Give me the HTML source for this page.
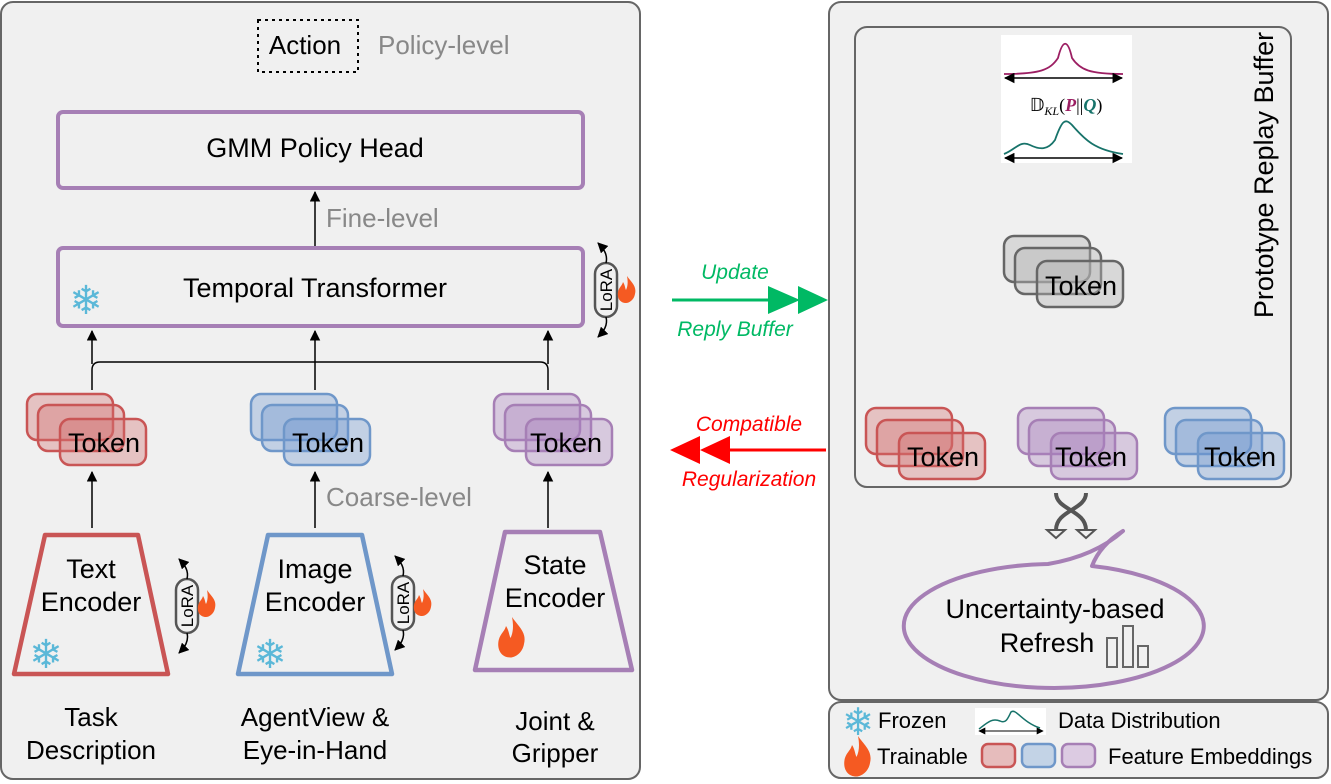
<!DOCTYPE html>
<html><head><meta charset="utf-8"><style>
html,body{margin:0;padding:0;background:#fff;}
svg{display:block;font-family:"Liberation Sans",Arial,sans-serif;}
</style></head><body>
<svg width="1331" height="784" viewBox="0 0 1331 784" xmlns="http://www.w3.org/2000/svg">
<defs>
<marker id="ar" viewBox="0 0 10 10" refX="9" refY="5" markerWidth="7" markerHeight="7" orient="auto-start-reverse"><path d="M0,0 L10,5 L0,10 z" fill="#000"/></marker>
<g id="flame"><g transform="scale(1.5)"><path d="M0,-14 C4,-8 10,-4 8,4 C7,10 2,13 -1,13 C-7,13 -10,8 -9,2 C-8,-3 -5,-4 -4,-8 C-2,-5 -2,-2 -1,0 C1,-4 1,-9 0,-14 z" fill="#f55a22"/></g></g>
<g id="sflame"><path d="M0,-14 C4,-8 10,-4 8,4 C7,10 2,13 -1,13 C-7,13 -10,8 -9,2 C-8,-3 -5,-4 -4,-8 C-2,-5 -2,-2 -1,0 C1,-4 1,-9 0,-14 z" fill="#f55a22"/></g>
<g id="lora"><rect x="-11" y="-27" width="22" height="54" rx="11" fill="#f0f0f0" stroke="#555" stroke-width="2.5"/><text transform="rotate(-90)" x="0" y="6" text-anchor="middle" font-size="17" fill="#000">LoRA</text>
<path d="M0,-27 C2,-35 -2,-41 -8,-47" fill="none" stroke="#000" stroke-width="1.5" marker-end="url(#ar)"/>
<path d="M0,27 C2,35 -2,41 -8,47" fill="none" stroke="#000" stroke-width="1.5" marker-end="url(#ar)"/></g>
</defs>
<!-- left panel -->
<rect x="1" y="2" width="639" height="777" rx="12" fill="#f0f0f0" stroke="#666" stroke-width="2"/>
<rect x="258" y="20" width="100" height="52" fill="none" stroke="#000" stroke-width="2" stroke-dasharray="3,4"/>
<text x="305" y="54" text-anchor="middle" font-size="26">Action</text>
<text x="378" y="54" font-size="26" fill="#888">Policy-level</text>
<rect x="58" y="112" width="525" height="76" rx="5" fill="none" stroke="#a67fb5" stroke-width="4"/>
<text x="315" y="157" text-anchor="middle" font-size="27">GMM Policy Head</text>
<line x1="315" y1="246" x2="315" y2="192" stroke="#000" stroke-width="1.5" marker-end="url(#ar)"/>
<text x="326" y="227" font-size="26" fill="#888">Fine-level</text>
<rect x="58" y="248" width="525" height="78" rx="5" fill="none" stroke="#a67fb5" stroke-width="4"/>
<text x="315" y="297" text-anchor="middle" font-size="27">Temporal Transformer</text>
<text x="86" y="314" text-anchor="middle" font-size="40" fill="#5bb8d8">❄</text>
<use href="#lora" x="606" y="290"/><use href="#sflame" x="627" y="290"/>
<!-- connectors -->
<path d="M92,390 V370 Q92,362 100,362 H540 Q548,362 548,370 V390" fill="none" stroke="#000" stroke-width="1.5"/>
<line x1="92" y1="364" x2="92" y2="331" stroke="#000" stroke-width="1.5" marker-end="url(#ar)"/>
<line x1="315" y1="390" x2="315" y2="331" stroke="#000" stroke-width="1.5" marker-end="url(#ar)"/>
<line x1="548" y1="364" x2="548" y2="331" stroke="#000" stroke-width="1.5" marker-end="url(#ar)"/>
<!-- tokens left -->
<g stroke="#c95555" stroke-width="2.5" fill="rgba(210,110,110,0.35)">
<rect x="27" y="394" width="86" height="46" rx="10"/><rect x="38" y="405" width="86" height="46" rx="10"/><rect x="60" y="419" width="86" height="46" rx="10"/></g>
<text x="104" y="452" text-anchor="middle" font-size="27">Token</text>
<g stroke="#6f97c9" stroke-width="2.5" fill="rgba(110,150,205,0.35)">
<rect x="251" y="394" width="86" height="46" rx="10"/><rect x="262" y="405" width="86" height="46" rx="10"/><rect x="284" y="419" width="86" height="46" rx="10"/></g>
<text x="328" y="452" text-anchor="middle" font-size="27">Token</text>
<g stroke="#a67fb5" stroke-width="2.5" fill="rgba(170,130,190,0.35)">
<rect x="494" y="394" width="86" height="46" rx="10"/><rect x="505" y="405" width="86" height="46" rx="10"/><rect x="526" y="419" width="86" height="46" rx="10"/></g>
<text x="566" y="452" text-anchor="middle" font-size="27">Token</text>
<line x1="92" y1="528" x2="92" y2="472" stroke="#000" stroke-width="1.5" marker-end="url(#ar)"/>
<line x1="315" y1="528" x2="315" y2="472" stroke="#000" stroke-width="1.5" marker-end="url(#ar)"/>
<line x1="548" y1="528" x2="548" y2="472" stroke="#000" stroke-width="1.5" marker-end="url(#ar)"/>
<text x="326" y="506" font-size="26" fill="#888">Coarse-level</text>
<!-- encoders -->
<path d="M45,535 H138 L168,674 H14 Z" fill="none" stroke="#c95555" stroke-width="4.5" stroke-linejoin="round"/>
<text x="91" y="578" text-anchor="middle" font-size="27">Text</text><text x="91" y="611" text-anchor="middle" font-size="27">Encoder</text>
<text x="46" y="668" text-anchor="middle" font-size="40" fill="#5bb8d8">❄</text>
<use href="#lora" x="187" y="606"/><use href="#sflame" x="207" y="604"/>
<path d="M268,535 H362 L392,674 H238 Z" fill="none" stroke="#6f97c9" stroke-width="4.5" stroke-linejoin="round"/>
<text x="315" y="578" text-anchor="middle" font-size="27">Image</text><text x="315" y="611" text-anchor="middle" font-size="27">Encoder</text>
<text x="270" y="668" text-anchor="middle" font-size="40" fill="#5bb8d8">❄</text>
<use href="#lora" x="403" y="603"/><use href="#sflame" x="423" y="603"/>
<path d="M505,532 H600 L632,670 H475 Z" fill="none" stroke="#a67fb5" stroke-width="4.5" stroke-linejoin="round"/>
<text x="555" y="574" text-anchor="middle" font-size="27">State</text><text x="555" y="607" text-anchor="middle" font-size="27">Encoder</text>
<use href="#flame" x="512" y="638"/>
<g font-size="26" text-anchor="middle">
<text x="91" y="726">Task</text><text x="91" y="759">Description</text>
<text x="315" y="726">AgentView &amp;</text><text x="315" y="759">Eye-in-Hand</text>
<text x="555" y="730">Joint &amp;</text><text x="555" y="762">Gripper</text></g>
<!-- middle arrows -->
<line x1="672" y1="300" x2="775" y2="300" stroke="#00b964" stroke-width="3"/>
<path d="M768,286 L800,300 L768,314 Z M798,286 L828,300 L798,314 Z" fill="#00b964"/>
<text x="735" y="279" text-anchor="middle" font-size="21" font-style="italic" fill="#00b964">Update</text>
<text x="735" y="336" text-anchor="middle" font-size="21" font-style="italic" fill="#00b964">Reply Buffer</text>
<line x1="720" y1="450" x2="826" y2="450" stroke="#f00" stroke-width="3"/>
<path d="M700,436 L670,450 L700,464 Z M730,436 L700,450 L730,464 Z" fill="#f00"/>
<text x="749" y="431" text-anchor="middle" font-size="21" font-style="italic" fill="#f00">Compatible</text>
<text x="749" y="486" text-anchor="middle" font-size="21" font-style="italic" fill="#f00">Regularization</text>
<!-- right panel -->
<rect x="829" y="2" width="499" height="698" rx="12" fill="#f0f0f0" stroke="#666" stroke-width="2"/>
<rect x="855" y="27" width="436" height="460" rx="12" fill="#f0f0f0" stroke="#666" stroke-width="2"/>
<text transform="translate(1273,175) rotate(-90)" text-anchor="middle" font-size="27">Prototype Replay Buffer</text>
<rect x="1001" y="35" width="131" height="128" fill="#fff"/>
<path d="M1004,74 C1040,74 1050,70 1058,58 C1063,38 1068,40 1072,58 C1080,70 1090,74 1123,74" fill="none" stroke="#9c1f63" stroke-width="1.8"/>
<line x1="1005" y1="78" x2="1122" y2="78" stroke="#000" stroke-width="1.5" marker-end="url(#ar)" marker-start="url(#ar)"/>
<text x="1066" y="111" text-anchor="middle" font-size="18" font-family="Liberation Serif,serif">𝔻<tspan font-size="12" font-style="italic" dy="4">KL</tspan><tspan dy="-4">(</tspan><tspan fill="#9c1f63" font-style="italic" font-weight="bold">P</tspan>||<tspan fill="#17736a" font-style="italic" font-weight="bold">Q</tspan>)</text>
<path d="M1004,154 C1015,150 1020,140 1030,145 C1040,150 1048,150 1055,140 C1062,120 1065,118 1072,125 C1085,140 1095,150 1123,154" fill="none" stroke="#17736a" stroke-width="1.8"/>
<line x1="1005" y1="158" x2="1122" y2="158" stroke="#000" stroke-width="1.5" marker-end="url(#ar)" marker-start="url(#ar)"/>
<g stroke="#666" stroke-width="2.5" fill="rgba(180,180,180,0.4)">
<rect x="1004" y="236" width="86" height="46" rx="10"/><rect x="1015" y="248" width="86" height="46" rx="10"/><rect x="1037" y="261" width="86" height="46" rx="10"/></g>
<text x="1081" y="295" text-anchor="middle" font-size="27">Token</text>
<g stroke="#c95555" stroke-width="2.5" fill="rgba(210,110,110,0.35)">
<rect x="866" y="408" width="86" height="46" rx="10"/><rect x="877" y="420" width="86" height="46" rx="10"/><rect x="899" y="433" width="86" height="46" rx="10"/></g>
<text x="943" y="466" text-anchor="middle" font-size="27">Token</text>
<g stroke="#a67fb5" stroke-width="2.5" fill="rgba(170,130,190,0.35)">
<rect x="1018" y="408" width="86" height="46" rx="10"/><rect x="1029" y="420" width="86" height="46" rx="10"/><rect x="1051" y="433" width="86" height="46" rx="10"/></g>
<text x="1091" y="466" text-anchor="middle" font-size="27">Token</text>
<g stroke="#6f97c9" stroke-width="2.5" fill="rgba(110,150,205,0.35)">
<rect x="1165" y="408" width="86" height="46" rx="10"/><rect x="1176" y="420" width="86" height="46" rx="10"/><rect x="1198" y="433" width="86" height="46" rx="10"/></g>
<text x="1240" y="466" text-anchor="middle" font-size="27">Token</text>
<!-- swap arrows -->
<path d="M1056,493 C1056,510 1086,510 1086,530 M1086,493 C1086,510 1056,510 1056,530" fill="none" stroke="#555" stroke-width="4"/>
<path d="M1047,530 L1065,530 L1056,538 Z M1077,530 L1095,530 L1086,538 Z" fill="#f0f0f0" stroke="#555" stroke-width="2"/>
<!-- bubble -->
<path d="M1048,564 Q1095,556 1123,531 Q1100,545 1092,566 A150,62 0 1 1 1048,564 Z" fill="#f0f0f0" stroke="#a67fb5" stroke-width="4" stroke-linejoin="round"/>
<text x="1055" y="618" text-anchor="middle" font-size="27">Uncertainty-based</text>
<text x="1047" y="652" text-anchor="middle" font-size="27">Refresh</text>
<g fill="none" stroke="#666" stroke-width="2"><rect x="1107" y="638" width="10" height="29"/><rect x="1123" y="626" width="10" height="41"/><rect x="1138" y="646" width="10" height="21"/></g>
<!-- legend -->
<rect x="829" y="702" width="499" height="76" rx="12" fill="#f0f0f0" stroke="#666" stroke-width="2"/>
<text x="858" y="735" text-anchor="middle" font-size="38" fill="#5bb8d8">❄</text>
<text x="878" y="728" font-size="22">Frozen</text>
<rect x="975" y="708" width="71" height="27" fill="#fff"/>
<path d="M979,729 C988,722 992,718 1000,721 C1006,724 1008,718 1011,712 C1016,708 1022,722 1040,728" fill="none" stroke="#17736a" stroke-width="1.5"/>
<line x1="979" y1="731" x2="1043" y2="731" stroke="#000" stroke-width="1" marker-end="url(#ar)" marker-start="url(#ar)"/>
<text x="1058" y="728" font-size="22">Data Distribution</text>
<use href="#flame" x="858" y="757"/>
<text x="877" y="764" font-size="22">Trainable</text>
<rect x="982" y="744" width="33" height="23" rx="6" fill="#e6bcbc" stroke="#c95555" stroke-width="2.5"/>
<rect x="1022" y="744" width="33" height="23" rx="6" fill="#c3d3e6" stroke="#6f97c9" stroke-width="2.5"/>
<rect x="1062" y="744" width="33" height="23" rx="6" fill="#dccbe2" stroke="#a67fb5" stroke-width="2.5"/>
<text x="1108" y="764" font-size="22">Feature Embeddings</text>
</svg>
</body></html>
